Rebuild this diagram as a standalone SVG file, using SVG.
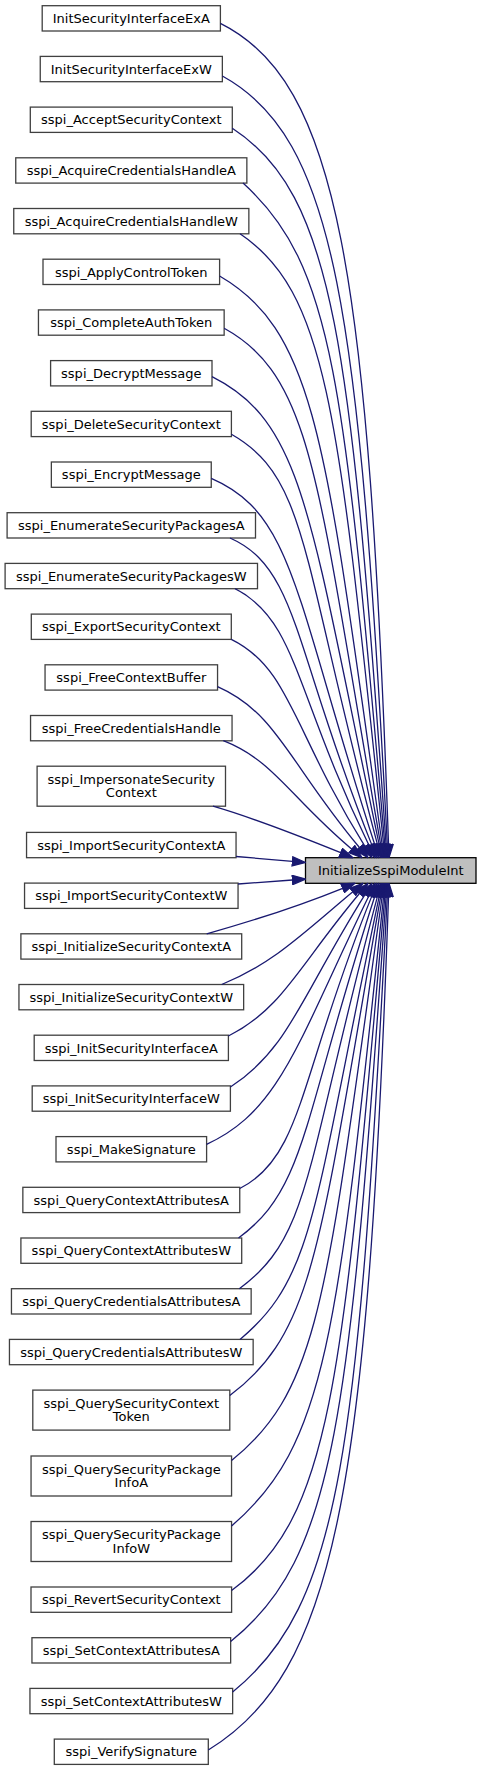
<svg xmlns="http://www.w3.org/2000/svg" width="481" height="1771" viewBox="0 0 481 1771">
<style>
.n rect{fill:#ffffff;stroke:#404040;stroke-width:1.3}
.root rect{fill:#bfbfbf;stroke:#000000;stroke-width:1.3}
text{font-family:"DejaVu Sans","Liberation Sans",sans-serif;font-size:13px;text-anchor:middle;fill:#000000}
.e path{fill:none;stroke:#191970;stroke-width:1.3;marker-end:url(#ah)}
</style>
<defs>
<marker id="ah" viewBox="0 -4 11 8" refX="0.5" refY="0" markerUnits="userSpaceOnUse" markerWidth="14.6" markerHeight="10.6" orient="auto">
<path d="M0.5,-3.5 L10.5,0 L0.5,3.5 z" fill="#191970" stroke="#191970" stroke-width="1"/>
</marker>
</defs>
<rect x="0" y="0" width="481" height="1771" fill="#ffffff"/>
<g id="node_root" class="root"><rect x="305.5" y="857.7" width="170.5" height="25.6"/><text x="390.75" y="875.2">InitializeSspiModuleInt</text></g>
<g id="n1" class="n"><rect x="42.2" y="5.7" width="178.2" height="25.3"/><text x="131.3" y="23.05">InitSecurityInterfaceExA</text></g>
<g id="n2" class="n"><rect x="40.25" y="56.4" width="182.1" height="25.3"/><text x="131.3" y="73.75">InitSecurityInterfaceExW</text></g>
<g id="n3" class="n"><rect x="30.3" y="107.1" width="202" height="25.3"/><text x="131.3" y="124.45">sspi_AcceptSecurityContext</text></g>
<g id="n4" class="n"><rect x="15.75" y="157.8" width="231.1" height="25.3"/><text x="131.3" y="175.15">sspi_AcquireCredentialsHandleA</text></g>
<g id="n5" class="n"><rect x="13.75" y="208.5" width="235.1" height="25.3"/><text x="131.3" y="225.85">sspi_AcquireCredentialsHandleW</text></g>
<g id="n6" class="n"><rect x="43" y="259.2" width="176.6" height="25.3"/><text x="131.3" y="276.55">sspi_ApplyControlToken</text></g>
<g id="n7" class="n"><rect x="38.45" y="309.9" width="185.7" height="25.3"/><text x="131.3" y="327.25">sspi_CompleteAuthToken</text></g>
<g id="n8" class="n"><rect x="50.6" y="360.6" width="161.4" height="25.3"/><text x="131.3" y="377.95">sspi_DecryptMessage</text></g>
<g id="n9" class="n"><rect x="31.2" y="411.3" width="200.2" height="25.3"/><text x="131.3" y="428.65">sspi_DeleteSecurityContext</text></g>
<g id="n10" class="n"><rect x="51.35" y="462" width="159.9" height="25.3"/><text x="131.3" y="479.35">sspi_EncryptMessage</text></g>
<g id="n11" class="n"><rect x="7.1" y="512.7" width="248.4" height="25.3"/><text x="131.3" y="530.05">sspi_EnumerateSecurityPackagesA</text></g>
<g id="n12" class="n"><rect x="5.1" y="563.4" width="252.4" height="25.3"/><text x="131.3" y="580.75">sspi_EnumerateSecurityPackagesW</text></g>
<g id="n13" class="n"><rect x="31.3" y="614.1" width="200" height="25.3"/><text x="131.3" y="631.45">sspi_ExportSecurityContext</text></g>
<g id="n14" class="n"><rect x="45.05" y="664.8" width="172.5" height="25.3"/><text x="131.3" y="682.15">sspi_FreeContextBuffer</text></g>
<g id="n15" class="n"><rect x="30.55" y="715.5" width="201.5" height="25.3"/><text x="131.3" y="732.85">sspi_FreeCredentialsHandle</text></g>
<g id="n16" class="n"><rect x="37.1" y="766.2" width="188.4" height="40"/><text x="131.3" y="784">sspi_ImpersonateSecurity</text><text x="131.3" y="797.3">Context</text></g>
<g id="n17" class="n"><rect x="26.55" y="832.4" width="209.5" height="25.3"/><text x="131.3" y="849.75">sspi_ImportSecurityContextA</text></g>
<g id="n18" class="n"><rect x="24.55" y="883.1" width="213.5" height="25.3"/><text x="131.3" y="900.45">sspi_ImportSecurityContextW</text></g>
<g id="n19" class="n"><rect x="20.9" y="933.8" width="220.8" height="25.3"/><text x="131.3" y="951.15">sspi_InitializeSecurityContextA</text></g>
<g id="n20" class="n"><rect x="18.95" y="984.5" width="224.7" height="25.3"/><text x="131.3" y="1001.85">sspi_InitializeSecurityContextW</text></g>
<g id="n21" class="n"><rect x="34.2" y="1035.2" width="194.2" height="25.3"/><text x="131.3" y="1052.55">sspi_InitSecurityInterfaceA</text></g>
<g id="n22" class="n"><rect x="32.2" y="1085.9" width="198.2" height="25.3"/><text x="131.3" y="1103.25">sspi_InitSecurityInterfaceW</text></g>
<g id="n23" class="n"><rect x="56" y="1136.6" width="150.6" height="25.3"/><text x="131.3" y="1153.95">sspi_MakeSignature</text></g>
<g id="n24" class="n"><rect x="22.85" y="1187.3" width="216.9" height="25.3"/><text x="131.3" y="1204.65">sspi_QueryContextAttributesA</text></g>
<g id="n25" class="n"><rect x="20.9" y="1238" width="220.8" height="25.3"/><text x="131.3" y="1255.35">sspi_QueryContextAttributesW</text></g>
<g id="n26" class="n"><rect x="11.45" y="1288.7" width="239.7" height="25.3"/><text x="131.3" y="1306.05">sspi_QueryCredentialsAttributesA</text></g>
<g id="n27" class="n"><rect x="9.45" y="1339.4" width="243.7" height="25.3"/><text x="131.3" y="1356.75">sspi_QueryCredentialsAttributesW</text></g>
<g id="n28" class="n"><rect x="32.8" y="1390.1" width="197" height="40"/><text x="131.3" y="1407.9">sspi_QuerySecurityContext</text><text x="131.3" y="1421.2">Token</text></g>
<g id="n29" class="n"><rect x="31.05" y="1456" width="200.5" height="40"/><text x="131.3" y="1473.8">sspi_QuerySecurityPackage</text><text x="131.3" y="1487.1">InfoA</text></g>
<g id="n30" class="n"><rect x="31.05" y="1521.5" width="200.5" height="40"/><text x="131.3" y="1539.3">sspi_QuerySecurityPackage</text><text x="131.3" y="1552.6">InfoW</text></g>
<g id="n31" class="n"><rect x="31" y="1587" width="200.6" height="25.3"/><text x="131.3" y="1604.35">sspi_RevertSecurityContext</text></g>
<g id="n32" class="n"><rect x="31.95" y="1637.7" width="198.7" height="25.3"/><text x="131.3" y="1655.05">sspi_SetContextAttributesA</text></g>
<g id="n33" class="n"><rect x="29.95" y="1688.4" width="202.7" height="25.3"/><text x="131.3" y="1705.75">sspi_SetContextAttributesW</text></g>
<g id="n34" class="n"><rect x="54.3" y="1739.1" width="154" height="25.3"/><text x="131.3" y="1756.45">sspi_VerifySignature</text></g>
<g id="edges" class="e">
<path d="M220.4,23.3 C338.1,82.2 368.5,269.6 388.54,844.41"/>
<path d="M222.35,76 C335.5,138.3 359.1,306.5 387.3,844.42"/>
<path d="M232.3,128.3 C334.2,194.6 351,343.1 386.07,844.43"/>
<path d="M243,183.1 C333.6,264.7 344.3,381.5 384.84,844.45"/>
<path d="M240,233.8 C328.6,293.2 338.7,417 383.61,844.47"/>
<path d="M219.6,276 C317,332.5 326.2,446.6 382.15,844.53"/>
<path d="M224.15,328.3 C314.3,377.9 317,483.2 380.69,844.6"/>
<path d="M212,376.7 C304.8,423.1 309.6,517.1 379.23,844.69"/>
<path d="M231.4,434.3 C308.9,478.5 300.6,557.5 377.56,844.85"/>
<path d="M211.25,478.3 C294.7,514.2 294.5,597.5 374.89,845.05"/>
<path d="M230,538 C298.7,568.2 293.7,651.4 372.02,845.37"/>
<path d="M235,588.7 C297,619.7 294.8,693.3 369.17,845.75"/>
<path d="M231.3,639.3 C290.2,668.2 293.1,731.5 364.95,846.42"/>
<path d="M217.55,686.7 C277.2,712.9 289.2,763.7 359.45,847.51"/>
<path d="M223.3,740.7 C274.3,760.6 289.7,797 351.81,849.15"/>
<path d="M213,806.2 C255,818.4 303.6,837.7 340.67,852.72"/>
<path d="M236.05,856.5 L292.45,861.36"/>
<path d="M238.05,884 L292.44,879.98"/>
<path d="M206.7,933.8 C251.7,921.2 305.6,903.3 342.67,888.28"/>
<path d="M221.7,984.5 C273,963.5 301,935.3 352.81,891.85"/>
<path d="M228.4,1036 C282.4,1009 298.8,965.7 359.45,893.49"/>
<path d="M230.4,1087 C288.8,1049 299.5,999.3 364.95,894.58"/>
<path d="M206.6,1144.3 C281.2,1110 297.9,1041.4 369.17,895.25"/>
<path d="M239.75,1188.5 C303,1156.9 298.7,1077.2 372.02,895.63"/>
<path d="M238.5,1238 C306.7,1188.2 301.9,1120.7 374.89,895.95"/>
<path d="M239.3,1288.7 C311.5,1236 304.6,1168.6 377.56,896.15"/>
<path d="M240,1339.4 C315.7,1276.5 313.3,1206.5 379.23,896.31"/>
<path d="M229.8,1395.5 C315.5,1331.2 319.1,1245.8 380.69,896.4"/>
<path d="M231.55,1460.5 C321.5,1388.6 326.7,1291.3 382.15,896.47"/>
<path d="M231.55,1526 C326.6,1444.3 337.3,1337.2 383.61,896.53"/>
<path d="M231.6,1590.5 C331.8,1517.4 342.3,1382.3 384.84,896.55"/>
<path d="M230.65,1641.5 C335.7,1557.4 349.6,1418 386.07,896.57"/>
<path d="M232.65,1692 C340.6,1604.6 358.1,1453.4 387.3,896.58"/>
<path d="M208.3,1750 C334.5,1673 367.7,1494 388.54,896.59"/>
</g>
</svg>
